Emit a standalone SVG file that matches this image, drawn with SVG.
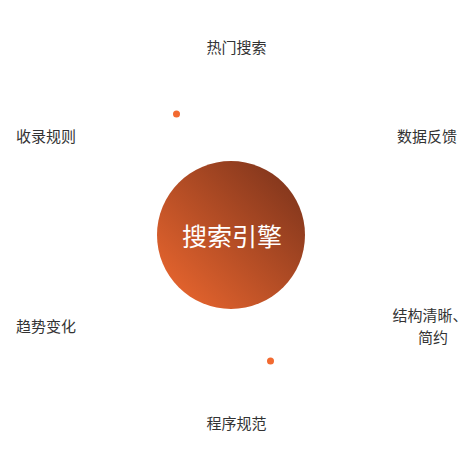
<svg xmlns="http://www.w3.org/2000/svg" width="473" height="469" viewBox="0 0 473 469">
<defs>
<linearGradient id="g" x1="0" y1="1" x2="1" y2="0">
<stop offset="0" stop-color="#F26A30"/>
<stop offset="1" stop-color="#75301A"/>
</linearGradient>
<style>
.lbl{font-family:"Noto Sans CJK SC","Noto Sans",sans-serif;font-size:15px;fill:#333333;text-anchor:middle}
.dot{fill:#F26A30}
</style>
</defs>
<rect width="473" height="469" fill="#ffffff"/>
<g id="connectors">
<circle class="dot" cx="176.5" cy="114" r="3.5"/>
<circle class="dot" cx="270.5" cy="361" r="3.5"/>
</g>
<g id="center">
<circle cx="231" cy="235" r="74" fill="url(#g)"/>
<text x="232" y="246" font-family="Noto Sans CJK SC,sans-serif" font-size="25" fill="#ffffff" text-anchor="middle">搜索引擎</text>
</g>
<g id="n1"><text class="lbl" x="236.5" y="53">热门搜索</text></g>
<g id="n2"><text class="lbl" x="427" y="142">数据反馈</text></g>
<g id="n3"><text class="lbl" x="430" y="321">结构清晰、</text><text class="lbl" x="433" y="343">简约</text></g>
<g id="n4"><text class="lbl" x="236.5" y="429">程序规范</text></g>
<g id="n5"><text class="lbl" x="46" y="332">趋势变化</text></g>
<g id="n6"><text class="lbl" x="46" y="142">收录规则</text></g>
</svg>
